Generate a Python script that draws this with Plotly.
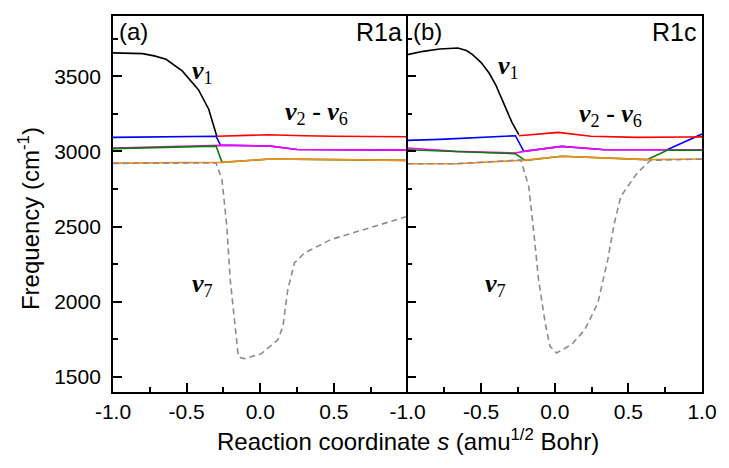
import plotly.graph_objects as go

# ---- Panel (a): R1a ----
a_nu1_s = [-1.0, -0.9, -0.8, -0.72, -0.64, -0.53, -0.42, -0.35, -0.317, -0.295]
a_nu1_f = [3655, 3654, 3650, 3635, 3612, 3535, 3410, 3280, 3170, 3100]

a_red_s = [-0.295, -0.1, 0.05, 0.3, 0.5, 1.0]
a_red_f = [3100, 3106, 3110, 3104, 3100, 3097]

a_blue_s = [-1.0, -0.3, -0.27, 0.0, 0.07, 0.25, 0.5, 1.0]
a_blue_f = [3093, 3100, 3042, 3037, 3035, 3012, 3010, 3008]

a_mag_s = [-1.0, -0.3, -0.27, 0.07, 0.25, 1.0]
a_mag_f = [3022, 3036, 3040, 3035, 3012, 3008]

a_green_s = [-1.0, -0.3, -0.26, 0.07, 0.5, 1.0]
a_green_f = [3018, 3035, 2927, 2949, 2945, 2940]

a_orange_s = [-1.0, -0.3, -0.26, 0.07, 0.5, 1.0]
a_orange_f = [2922, 2923, 2927, 2949, 2945, 2940]

a_nu7_s = [-1.0, -0.3, -0.26, -0.227, -0.204, -0.171, -0.149, -0.125, -0.104,
           0.008, 0.12, 0.154, 0.187, 0.232, 0.3, 0.478, 0.703, 1.0]
a_nu7_f = [2920, 2923, 2812, 2501, 2147, 1814, 1637, 1625, 1622,
           1655, 1748, 1836, 2080, 2258, 2324, 2413, 2479, 2568]

# ---- Panel (b): R1c ----
b_nu1_s = [-1.0, -0.894, -0.782, -0.658, -0.6, -0.558, -0.5, -0.446, -0.4,
           -0.356, -0.289, -0.244]
b_nu1_f = [3643, 3665, 3681, 3687, 3670, 3643, 3590, 3521, 3440,
           3344, 3189, 3111]

b_red_s = [-0.244, 0.024, 0.246, 0.56, 0.9, 1.0]
b_red_f = [3104, 3126, 3100, 3093, 3095, 3096]

b_blue_s = [-1.0, -0.78, -0.267, -0.21, 0.047, 0.34, 0.763, 1.0]
b_blue_f = [3073, 3080, 3104, 3000, 3033, 3011, 3011, 3115]

b_mag_s = [-1.0, -0.67, -0.27, -0.21, 0.047, 0.34, 1.0]
b_mag_f = [3022, 3000, 2989, 3000, 3033, 3011, 3011]

b_green_s = [-1.0, -0.27, -0.2, 0.047, 0.627, 0.763, 1.0]
b_green_f = [3011, 2985, 2940, 2967, 2945, 3007, 3007]

b_orange_s = [-1.0, -0.67, -0.2, 0.047, 0.627, 1.0]
b_orange_f = [2918, 2918, 2942, 2967, 2945, 2949]

b_nu7_s = [-1.0, -0.67, -0.23, -0.177, -0.144, -0.11, -0.065, -0.032, 0.013,
           0.114, 0.204, 0.293, 0.36, 0.405, 0.449, 0.56, 0.65, 1.0]
b_nu7_f = [2918, 2918, 2943, 2767, 2479, 2147, 1859, 1703, 1660,
           1715, 1814, 1992, 2280, 2524, 2701, 2856, 2940, 2949]

# axis ticks
y_major = [1500, 2000, 2500, 3000, 3500]
y_minor = [1750, 2250, 2750, 3250, 3750]
xa_major = [-1.0, -0.5, 0.0, 0.5]
xb_major = [-1.0, -0.5, 0.0, 0.5, 1.0]
x_minor = [-0.75, -0.25, 0.25, 0.75]
xa_text = ["-1.0", "-0.5", "0.0", "0.5"]
xb_text = ["-1.0", "-0.5", "0.0", "0.5", "1.0"]

RED, BLUE, MAG, GREEN, ORANGE = "#ff0000", "#0000ff", "#ff00ff", "#008000", "#ff8c1a"
GRAY = "#8c8c8c"
LW = 1.6

sans = "Liberation Sans, Arial, sans-serif"
serif = "Liberation Serif, Times New Roman, serif"

fig = go.Figure()


def add(s, f, color, xa, ya, dash=None):
    line = dict(color=color, width=LW)
    if dash:
        line["dash"] = dash
    fig.add_trace(go.Scatter(x=s, y=f, mode="lines", line=line,
                             xaxis=xa, yaxis=ya, showlegend=False,
                             hoverinfo="skip"))


for xa, ya, d in [
    ("x", "y", dict(blue=(a_blue_s, a_blue_f), mag=(a_mag_s, a_mag_f),
                    green=(a_green_s, a_green_f), orange=(a_orange_s, a_orange_f),
                    red=(a_red_s, a_red_f), nu1=(a_nu1_s, a_nu1_f),
                    nu7=(a_nu7_s, a_nu7_f))),
    ("x2", "y2", dict(blue=(b_blue_s, b_blue_f), mag=(b_mag_s, b_mag_f),
                      green=(b_green_s, b_green_f), orange=(b_orange_s, b_orange_f),
                      red=(b_red_s, b_red_f), nu1=(b_nu1_s, b_nu1_f),
                      nu7=(b_nu7_s, b_nu7_f))),
]:
    add(*d["blue"], BLUE, xa, ya)
    add(*d["mag"], MAG, xa, ya)
    add(*d["green"], GREEN, xa, ya)
    add(*d["orange"], ORANGE, xa, ya)
    add(*d["red"], RED, xa, ya)
    add(*d["nu1"], "black", xa, ya)
    add(*d["nu7"], GRAY, xa, ya, dash="6px,4px")

tick_font = dict(family=sans, size=21, color="black")


def x_axis(vals, text, domain, anchor):
    return dict(domain=domain, anchor=anchor, range=[-1, 1],
                tickmode="array", tickvals=vals, ticktext=text,
                ticks="inside", ticklen=9, tickwidth=1.5, tickcolor="black",
                showline=True, linewidth=1.8, linecolor="black", mirror=True,
                showgrid=False, zeroline=False, tickfont=tick_font,
                minor=dict(tickmode="array", tickvals=x_minor, ticks="inside",
                           ticklen=5, tickwidth=1.5, tickcolor="black",
                           showgrid=False))


def y_axis(anchor, mirror, labels):
    return dict(anchor=anchor, range=[1400, 3900], tickmode="array",
                tickvals=y_major, ticks="inside", ticklen=9, tickwidth=1.5,
                tickcolor="black", showline=True, linewidth=1.8,
                linecolor="black", mirror=mirror, showgrid=False,
                zeroline=False, tickfont=tick_font, showticklabels=labels,
                minor=dict(tickmode="array", tickvals=y_minor, ticks="inside",
                           ticklen=5, tickwidth=1.5, tickcolor="black",
                           showgrid=False))


ya = y_axis("x", False, True)
ya.update(ticklabelstandoff=6)
yb = y_axis("x2", True, False)
yb.update(matches="y")

fig.update_layout(
    width=729, height=468,
    margin=dict(l=113, r=20, t=16, b=76),
    paper_bgcolor="white", plot_bgcolor="white",
    xaxis=x_axis(xa_major, xa_text, [0, 0.5], "y"),
    xaxis2=x_axis(xb_major, xb_text, [0.5, 1], "y2"),
    yaxis=ya,
    yaxis2=yb,
)

# y title, placed slightly below the plot centre
fig.add_annotation(x=-0.1426, y=0.46, xref="paper", yref="paper",
                   text="Frequency (cm<sup>-1</sup>)", textangle=-90,
                   showarrow=False, xanchor="center", yanchor="middle",
                   font=dict(family=sans, size=24, color="black"))

# shared x title across both panels
fig.add_annotation(x=0.5, y=-0.128, xref="paper", yref="paper",
                   text="Reaction coordinate <i>s</i> (amu<sup>1/2</sup> Bohr)",
                   showarrow=False, xanchor="center", yanchor="middle",
                   font=dict(family=sans, size=24, color="black"))

# panel tags
for xr, txt in [("x domain", "(a)"), ("x2 domain", "(b)")]:
    fig.add_annotation(x=0.012, y=1.0, xref=xr, yref="paper", text=txt,
                       showarrow=False, xanchor="left", yanchor="top",
                       font=dict(family=sans, size=24, color="black"))
for xr, txt in [("x domain", "R1a"), ("x2 domain", "R1c")]:
    fig.add_annotation(x=0.988, y=1.0, xref=xr, yref="paper", text=txt,
                       showarrow=False, xanchor="right", yanchor="top",
                       font=dict(family=sans, size=25, color="black"))

nu = "<b><i>ν</i></b><sub>%s</sub>"
mode_labels = [
    ("x", "y", -0.39, 3530, nu % "1"),
    ("x", "y", 0.38, 3257, (nu % "2") + " <b>-</b> " + (nu % "6")),
    ("x", "y", -0.39, 2114, nu % "7"),
    ("x2", "y2", -0.314, 3563, nu % "1"),
    ("x2", "y2", 0.376, 3244, (nu % "2") + " <b>-</b> " + (nu % "6")),
    ("x2", "y2", -0.405, 2114, nu % "7"),
]
for xr, yr, xv, yv, txt in mode_labels:
    fig.add_annotation(x=xv, y=yv, xref=xr, yref=yr, text=txt, showarrow=False,
                       xanchor="center", yanchor="middle",
                       font=dict(family=serif, size=26, color="black"))

fig.write_html("out.html")
